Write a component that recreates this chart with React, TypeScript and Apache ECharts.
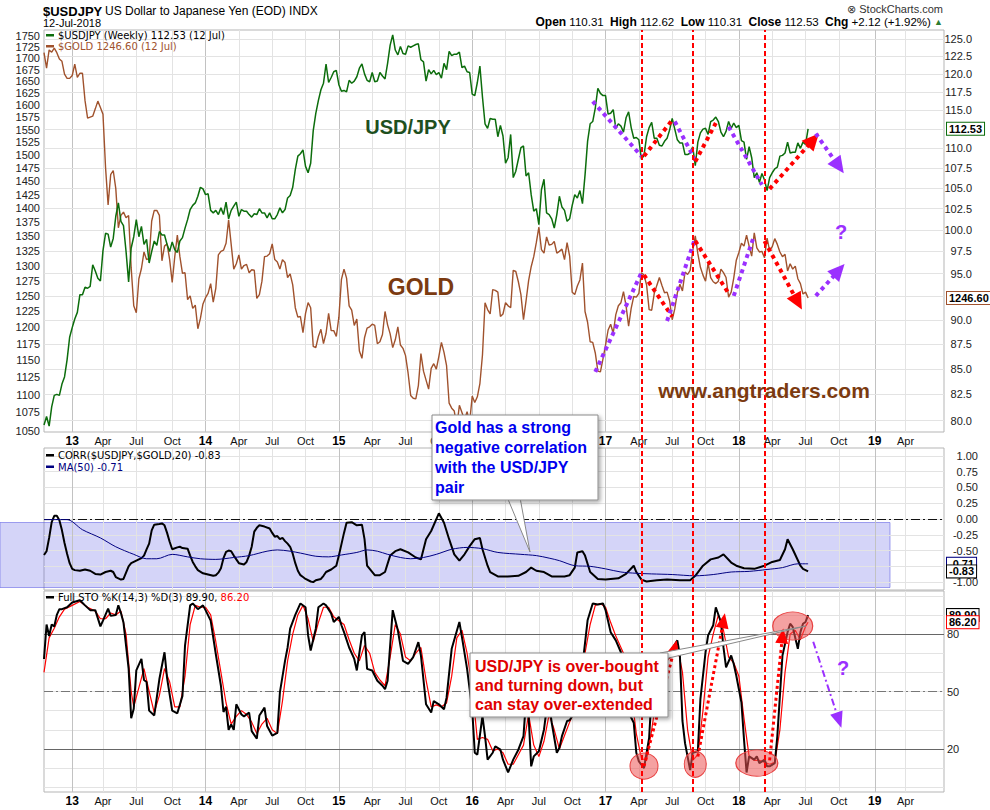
import React, { useEffect, useRef } from "react";
import * as echarts from "echarts";

// ---------- time axis (weekly, Monday of each week) ----------
const START_MONDAY = Date.UTC(2012, 9, 22);
const N_WEEKS = 352;
const WEEKS: string[] = Array.from({ length: N_WEEKS }, (_, i) =>
  new Date(START_MONDAY + i * 7 * 86400000).toISOString().slice(0, 10)
);
const QUARTER_NAMES: Record<number, string> = { 4: "Apr", 7: "Jul", 10: "Oct" };
const LAST_LABELLED_WEEK = 345;

// ---------- data ----------
const USDJPY = [
  79.6, 80.4, 79.5, 81.3, 82.4, 82.5, 82.4, 83.5, 84.2, 85.9,
  88.2, 89.2, 90.1, 90.8, 92.7, 92.7, 93.5, 93.4, 93.6, 96.0, 95.3, 94.5, 94.2, 97.6, 99.6, 99.5, 98.0, 99.0, 101.6, 103.2,
  101.0, 100.5, 97.5, 94.1, 97.9, 99.2, 101.2, 99.2, 100.4, 98.3, 98.9, 96.2, 97.5, 98.7, 98.2, 99.8, 99.4, 99.4, 98.3, 97.5,
  98.6, 97.7, 97.4, 98.7, 99.1, 100.2, 101.2, 102.4, 102.9, 103.2, 104.0, 105.1,
  104.9, 104.2, 104.3, 102.3, 102.0, 102.3, 101.8, 102.6, 101.8, 103.3, 101.3, 102.3, 102.8, 103.3, 101.6, 102.4, 102.2, 102.2,
  101.8, 101.5, 101.9, 101.8, 102.5, 102.0, 102.0, 101.4, 102.0, 101.3, 101.3, 101.8, 102.6, 102.0, 102.4, 103.8, 104.1, 105.1,
  107.3, 109.0, 109.3, 109.8, 107.7, 106.9, 108.1, 112.3, 114.6, 116.3, 117.8, 118.7, 121.4, 118.8, 119.5, 120.3,
  120.5, 118.5, 117.6, 117.7, 117.5, 119.1, 118.7, 119.0, 119.6, 120.8, 121.4, 120.0, 119.1, 118.9, 120.2, 118.9, 119.0, 120.2,
  119.7, 119.3, 121.5, 124.1, 125.6, 123.4, 122.7, 123.9, 122.9, 122.8, 124.0, 123.8, 124.0, 124.2, 124.3, 122.0, 121.7, 119.0,
  120.6, 120.0, 120.5, 119.9, 120.2, 119.4, 121.5, 120.6, 123.2, 122.6, 122.8, 122.8, 123.1, 120.9, 121.1, 120.3,
  120.2, 117.2, 117.0, 118.8, 121.1, 116.8, 113.2, 112.6, 113.9, 113.8, 113.8, 111.5, 113.0, 111.6, 108.1, 108.8, 111.8, 106.3,
  107.1, 108.6, 110.1, 110.3, 106.5, 106.9, 104.2, 102.2, 102.5, 100.6, 104.8, 106.1, 102.0, 101.8, 101.3, 100.2, 101.8, 104.0,
  102.7, 102.3, 101.0, 101.3, 102.9, 104.2, 103.8, 104.7, 103.1, 106.6, 110.9, 113.2, 113.5, 115.3, 118.0, 117.3, 117.0,
  117.0, 114.5, 114.6, 115.1, 112.6, 113.2, 112.9, 112.1, 114.0, 114.8, 112.7, 111.3, 111.4, 111.1, 108.6, 109.1, 111.5, 112.7,
  113.4, 111.3, 111.3, 110.4, 110.3, 110.9, 111.3, 112.4, 113.9, 112.5, 111.1, 110.7, 110.7, 109.2, 109.2, 109.4, 110.2, 107.8,
  110.8, 112.0, 112.5, 112.6, 111.8, 113.5, 113.7, 114.1, 113.5, 112.1, 111.5, 112.2, 113.5, 112.6, 113.3, 112.7,
  113.0, 111.0, 110.8, 108.6, 110.2, 108.8, 106.3, 106.9, 105.7, 106.8, 106.0, 104.7, 106.3, 106.9, 107.4, 107.6, 109.0, 109.1,
  109.4, 110.8, 109.4, 109.5, 109.5, 110.7, 110.0, 110.8, 110.5, 112.53,
];

const GOLD = [
  1712, 1678, 1718, 1713, 1722, 1712, 1698, 1693, 1665, 1656,
  1656, 1662, 1687, 1658, 1667, 1667, 1609, 1573, 1575, 1577, 1592, 1608, 1595, 1581, 1476, 1406, 1462, 1470, 1436, 1365,
  1387, 1393, 1383, 1387, 1296, 1234, 1223, 1278, 1295, 1323, 1310, 1312, 1377, 1396, 1396, 1387, 1308, 1333, 1337, 1310,
  1272, 1315, 1352, 1315, 1287, 1288, 1244, 1250, 1230, 1235, 1198, 1214,
  1237, 1247, 1254, 1270, 1240, 1262, 1318, 1324, 1326, 1338, 1379, 1336, 1294, 1303, 1318, 1294, 1300, 1302, 1288, 1293,
  1292, 1246, 1252, 1274, 1315, 1316, 1320, 1337, 1310, 1306, 1294, 1310, 1305, 1280, 1286, 1268, 1231, 1216, 1217, 1192,
  1222, 1239, 1231, 1171, 1169, 1186, 1197, 1175, 1191, 1222, 1195, 1195,
  1186, 1216, 1277, 1294, 1279, 1234, 1227, 1203, 1213, 1164, 1153, 1184, 1199, 1201, 1205, 1203, 1175, 1178, 1189, 1225,
  1204, 1190, 1169, 1181, 1201, 1173, 1168, 1157, 1131, 1099, 1095, 1094, 1113, 1160, 1134, 1121, 1108, 1138, 1145, 1137,
  1156, 1177, 1162, 1142, 1088, 1081, 1077, 1056, 1085, 1075, 1065, 1076,
  1061, 1098, 1089, 1097, 1116, 1158, 1239, 1228, 1221, 1260, 1259, 1256, 1217, 1221, 1239, 1234, 1231, 1292, 1290, 1273,
  1252, 1212, 1242, 1275, 1298, 1315, 1339, 1366, 1327, 1321, 1349, 1335, 1336, 1341, 1321, 1324, 1328, 1310, 1339, 1316,
  1256, 1252, 1266, 1276, 1304, 1225, 1208, 1178, 1177, 1161, 1134, 1133, 1152,
  1173, 1196, 1205, 1191, 1220, 1234, 1239, 1257, 1234, 1202, 1230, 1249, 1248, 1254, 1288, 1284, 1268, 1228, 1227, 1254,
  1267, 1280, 1267, 1255, 1256, 1242, 1212, 1229, 1255, 1269, 1258, 1289, 1285, 1292, 1325, 1351, 1320, 1297, 1284, 1274,
  1304, 1280, 1273, 1270, 1274, 1294, 1288, 1280, 1248, 1256, 1279, 1309,
  1322, 1338, 1333, 1352, 1333, 1316, 1356, 1330, 1323, 1324, 1313, 1347, 1325, 1332, 1346, 1336, 1323, 1315, 1319, 1291,
  1303, 1294, 1299, 1278, 1270, 1253, 1256, 1246.6,
];

// [week index, value]
const CORR = [
  [0, -0.57], [1, -0.51], [2, -0.3], [3, -0.05], [4, 0.05], [5, 0.05], [6, -0.02], [7, -0.18], [8, -0.38], [9, -0.55],
  [10, -0.7], [11, -0.79], [12, -0.81], [14, -0.82], [16, -0.8], [18, -0.82], [20, -0.87], [22, -0.88], [24, -0.84],
  [26, -0.82], [27, -0.84], [28, -0.92], [30, -0.96], [31, -0.95], [32, -0.85], [33, -0.75], [34, -0.7], [36, -0.66],
  [38, -0.62], [39, -0.58], [40, -0.48], [41, -0.39], [42, -0.18], [43, -0.09], [45, -0.08], [46, -0.07], [47, -0.1],
  [48, -0.22], [49, -0.36], [50, -0.48], [52, -0.45], [53, -0.44], [54, -0.46], [56, -0.47], [57, -0.58], [58, -0.68],
  [59, -0.75], [60, -0.81], [62, -0.86], [64, -0.88], [66, -0.9], [67, -0.89], [68, -0.85], [69, -0.78], [70, -0.62],
  [71, -0.52], [72, -0.5], [73, -0.51], [74, -0.58], [75, -0.64], [76, -0.7], [78, -0.72], [79, -0.68], [80, -0.58],
  [81, -0.44], [82, -0.2], [83, -0.14], [84, -0.1], [86, -0.12], [88, -0.15], [89, -0.22], [90, -0.28], [91, -0.27],
  [92, -0.32], [93, -0.3], [94, -0.35], [95, -0.39], [96, -0.44], [97, -0.55], [98, -0.7], [99, -0.82], [100, -0.89],
  [101, -0.92], [102, -0.95], [104, -0.99], [105, -1.0], [106, -0.97], [108, -0.95], [109, -0.9], [110, -0.84],
  [112, -0.8], [114, -0.74], [115, -0.58], [117, -0.22], [118, -0.06], [120, -0.05], [122, -0.1], [124, -0.09],
  [125, -0.32], [126, -0.74], [129, -0.89], [131, -0.89], [133, -0.84], [135, -0.58], [137, -0.51], [139, -0.48],
  [142, -0.53], [145, -0.61], [147, -0.64], [149, -0.32], [151, -0.19], [154, 0.09], [156, -0.06], [158, -0.32],
  [160, -0.56], [162, -0.66], [164, -0.56], [166, -0.43], [168, -0.32], [170, -0.3], [171, -0.48], [173, -0.74],
  [174, -0.84], [177, -0.91], [181, -0.91], [185, -0.9], [188, -0.84], [190, -0.77], [192, -0.82], [195, -0.84],
  [198, -0.91], [203, -0.91], [205, -0.89], [207, -0.77], [208, -0.53], [210, -0.51], [211, -0.58], [213, -0.84],
  [216, -0.95], [219, -0.96], [224, -0.94], [227, -0.87], [230, -0.74], [231, -0.84], [233, -0.96], [235, -0.99],
  [239, -0.97], [243, -0.96], [248, -0.97], [252, -0.97], [254, -0.9], [257, -0.74], [260, -0.64], [263, -0.61],
  [265, -0.56], [268, -0.69], [270, -0.74], [273, -0.78], [277, -0.79], [281, -0.74], [284, -0.68], [287, -0.65],
  [289, -0.48], [290, -0.32], [292, -0.48], [295, -0.74], [296, -0.79], [298, -0.83],
];

const MA50 = [
  [0, -0.01], [9, -0.01], [15, -0.17], [22, -0.3], [28, -0.44], [35, -0.56], [40, -0.63], [44, -0.63], [50, -0.56],
  [56, -0.6], [61, -0.63], [67, -0.64], [74, -0.61], [80, -0.58], [87, -0.51], [91, -0.49], [96, -0.51], [100, -0.54],
  [106, -0.59], [111, -0.6], [116, -0.57], [122, -0.53], [126, -0.49], [130, -0.51], [134, -0.56], [139, -0.61],
  [143, -0.63], [148, -0.61], [153, -0.56], [159, -0.48], [165, -0.45], [171, -0.47], [177, -0.53], [186, -0.56],
  [192, -0.58], [197, -0.62], [201, -0.66], [207, -0.74], [213, -0.75], [219, -0.79], [225, -0.84], [231, -0.86],
  [237, -0.87], [245, -0.88], [254, -0.9], [261, -0.88], [268, -0.84], [275, -0.83], [282, -0.8], [288, -0.77],
  [294, -0.71], [298, -0.71],
];

const STO_K = [
  [0, 67], [1, 85], [2, 79], [3, 85], [4, 84], [5, 90], [6, 93], [7, 93], [9, 94], [11, 96.5], [14, 97.7], [16, 95],
  [18, 92.5], [20, 92.5], [22, 84], [23, 87], [25, 93.3], [26, 89.5], [28, 90], [29, 95], [30, 91], [31, 86], [33, 62],
  [34, 36], [35, 41], [36, 61], [38, 67], [39, 56], [40, 55], [41, 40], [43, 37.5], [45, 56.5], [47, 70.5], [48, 57],
  [50, 40], [52, 38.6], [54, 47.7], [55, 74], [57, 95], [58, 96], [60, 93], [62, 95], [63, 92.5], [65, 87], [67, 69.6],
  [69, 53], [70, 39.3], [71, 42], [72, 30], [73, 32.8], [74, 30], [75, 43.3], [77, 38], [78, 37], [80, 39], [81, 29.3],
  [83, 25.4], [84, 37.5], [86, 41.6], [87, 32], [89, 27], [91, 28.4], [92, 49.5], [94, 66], [95, 73], [96, 82.8],
  [98, 90], [100, 96], [102, 94], [103, 79.3], [104, 71.4], [106, 82.8], [107, 94], [109, 96], [110, 95], [112, 90.7],
  [113, 86.3], [115, 89], [116, 84.6], [117, 81], [119, 73], [121, 67], [122, 61], [124, 79.3], [125, 81], [126, 61.8],
  [128, 61], [130, 55.6], [132, 53], [133, 51.2], [134, 55.6], [136, 92.5], [138, 82], [140, 66], [142, 64.4],
  [144, 68], [146, 75.8], [147, 68.8], [149, 43.3], [151, 39], [152, 45], [154, 43.3], [156, 40.7], [157, 46.8],
  [159, 72.3], [162, 86.3], [163, 78.4], [165, 61.8], [167, 40.7], [168, 18], [169, 17], [171, 37.2], [172, 26.7],
  [173, 14.4], [175, 18], [176, 21.4], [178, 19.6], [179, 14.4], [181, 7.7], [183, 14.4], [185, 19.6], [187, 26.7],
  [188, 46], [189, 37.2], [190, 10.9], [191, 16.1], [193, 18.8], [195, 30.2], [196, 40.7], [197, 44.2], [198, 33.7],
  [200, 18], [201, 20.5], [202, 26.7], [204, 34.6], [205, 35], [206, 37.2], [208, 47.7], [209, 54.7], [210, 63.5],
  [212, 87.2], [214, 96], [216, 95.4], [218, 96], [219, 92.5], [221, 81], [223, 76.7], [225, 70.5], [227, 63.5],
  [228, 39], [230, 33.7], [231, 18], [232, 13.5], [234, 10], [236, 25.8], [237, 49.5], [239, 58.2], [241, 68.8],
  [243, 67], [245, 72.3], [247, 76.7], [248, 68.8], [249, 34.6], [250, 23], [252, 9], [253, 18], [255, 18.8], [256, 46],
  [258, 70.5], [259, 79.3], [261, 84.6], [262, 94], [264, 86.3], [265, 73], [266, 62.6], [268, 68.8], [269, 64.4],
  [270, 58.2], [272, 44.2], [273, 25], [274, 7.7], [275, 16.1], [277, 14.4], [278, 16.1], [279, 12.6], [281, 14.4],
  [282, 10.9], [283, 10.9], [285, 12.6], [286, 26.7], [287, 47.7], [288, 68.8], [290, 81], [291, 85.4], [292, 83.7],
  [294, 72.3], [295, 81], [296, 85.4], [297, 86.3], [298, 89.9],
];

const STO_D = [
  [0, 60], [2, 78], [4, 83], [6, 89], [8, 93], [11, 95], [14, 97], [17, 94], [20, 92], [22, 88], [24, 88], [26, 91],
  [28, 90], [30, 92], [32, 80], [34, 50], [35, 42], [37, 52], [39, 62], [41, 50], [43, 39], [45, 48], [47, 62], [49, 55],
  [51, 42], [53, 42], [55, 58], [57, 85], [59, 95], [61, 94], [63, 94], [65, 90], [67, 76], [69, 60], [71, 44], [73, 33],
  [75, 37], [77, 40], [79, 38], [81, 34], [83, 28], [85, 33], [87, 36], [89, 30], [91, 28], [93, 45], [95, 66], [97, 80],
  [99, 90], [101, 95], [103, 88], [105, 76], [107, 86], [109, 94], [111, 94], [113, 89], [115, 87], [117, 85], [119, 77],
  [121, 70], [123, 66], [125, 74], [127, 70], [129, 60], [131, 56], [133, 53], [135, 68], [137, 85], [139, 80], [141, 68],
  [143, 66], [145, 70], [147, 73], [149, 56], [151, 42], [153, 43], [155, 42], [157, 44], [159, 58], [161, 78], [163, 82],
  [165, 70], [167, 52], [169, 25], [171, 26], [173, 25], [175, 19], [177, 20], [179, 18], [181, 12], [183, 12], [185, 17],
  [187, 22], [189, 38], [191, 22], [193, 16], [195, 24], [197, 38], [199, 30], [201, 20], [203, 27], [205, 34], [207, 40],
  [209, 49], [211, 70], [213, 85], [215, 95], [217, 96], [219, 94], [221, 86], [223, 79], [225, 73], [227, 67], [229, 50],
  [231, 28], [233, 15], [235, 14], [237, 30], [239, 48], [241, 62], [243, 66], [245, 69], [247, 74], [249, 60], [251, 30],
  [253, 14], [255, 17], [257, 40], [259, 68], [261, 80], [263, 90], [265, 82], [267, 68], [269, 65], [271, 58], [273, 36],
  [275, 16], [277, 14], [279, 14], [281, 13], [283, 12], [285, 13], [287, 30], [289, 60], [291, 80], [293, 82], [295, 77],
  [297, 84], [298, 86.2],
];

// ---------- tick labels ----------
const GOLD_TICKS = [1050, 1075, 1100, 1125, 1150, 1175, 1200, 1225, 1250, 1275, 1300, 1325, 1350, 1375, 1400, 1425,
  1450, 1475, 1500, 1525, 1550, 1575, 1600, 1625, 1650, 1675, 1700, 1725, 1750];
const USD_TICKS = [80, 82.5, 85, 87.5, 90, 92.5, 95, 97.5, 100, 102.5, 105, 107.5, 110, 112.5, 115, 117.5, 120, 122.5, 125];
const USD_TICKS_UNLABELLED = [92.5, 112.5];
const CORR_LABEL_HIDDEN = [-0.75];
const STO_LABELS = [20, 50, 80];

// ---------- annotations (data-space) ----------
const EVENT_WEEKS = [233, 253, 281];
const P = "#9b30ff";
const R = "#ff0000";
// [week1, value1, week2, value2, colour, arrowhead]
const USD_ARROWS: any[] = [
  [214, 116.2, 233, 109.0, P, false], [234, 109.0, 245, 113.7, R, false], [246, 113.5, 254, 108.5, P, false],
  [254, 108.3, 262, 113.3, R, false], [267, 112.8, 280, 105.4, P, false], [283, 104.9, 300, 111.1, R, true],
  [301, 111.9, 310, 107.7, P, true],
];
const GOLD_ARROWS: any[] = [
  [215, 1133, 233, 1288, P, false], [234, 1284, 245, 1217, R, false], [243, 1210, 254, 1347, P, false],
  [254, 1342, 267, 1254, R, false], [269, 1250, 277, 1352, P, false], [281, 1342, 294, 1240, R, true],
  [301, 1250, 310, 1292, P, true],
];
const STO_ARROWS: any[] = [
  [234, 11, 246, 73, R, true], [255, 16, 265, 87, R, true], [283, 14, 288, 79, R, true],
];
const STO_DOWN_ARROW: any = [300, 76, 310, 35, P, true];
// [week, value, width, height]
const STO_CIRCLES = [[234, 11, 28, 26], [254, 12, 22, 26], [278, 12.6, 42, 26], [292, 84.2, 40, 28]];

const FONT = '"Liberation Sans", Arial, Helvetica, sans-serif';
const LFONT = '"DejaVu Sans", Verdana, sans-serif';
const GREEN = "#0c6d0c";
const BROWN = "#a0522d";

const isQuarterStart = (i: number) => {
  if (i <= 0 || i > LAST_LABELLED_WEEK) return false;
  const m = +WEEKS[i].slice(5, 7);
  const pm = +WEEKS[i - 1].slice(5, 7);
  return m !== pm && (m - 1) % 3 === 0;
};
const quarterLabel = (value: string) => {
  const m = +value.slice(5, 7);
  return m === 1 ? `{y|${value.slice(2, 4)}}` : QUARTER_NAMES[m] || "";
};

const mkX = (gridIndex: number, showLabels: boolean, margin: number, hidden = false) => ({
  type: "category",
  gridIndex,
  data: WEEKS,
  boundaryGap: false,
  show: !hidden,
  axisLine: { show: false },
  axisTick: { show: false },
  axisLabel: {
    show: showLabels,
    interval: (i: number) => isQuarterStart(i),
    formatter: (v: string) => quarterLabel(v),
    margin,
    fontSize: 11,
    color: "#111",
    fontFamily: FONT,
    rich: { y: { fontWeight: "bold", fontSize: 12, color: "#000", fontFamily: FONT } },
  },
  splitLine: {
    show: !hidden,
    interval: (i: number) => isQuarterStart(i),
    lineStyle: { color: ["#c2c2c2", "#e3e3e3", "#e3e3e3", "#e3e3e3"], width: 1 },
  },
});

const arrowPair = (a: any[], width: number, dash: any, size: number[]) => [
  { coord: [a[0], a[1]], symbol: "none", lineStyle: { color: a[4], width, type: dash, cap: "butt" } },
  { coord: [a[2], a[3]], symbol: a[5] ? "triangle" : "none", symbolSize: size },
];

const tag = (value: number, text: string, border: string, color = "#000", position = "end") => ({
  yAxis: value,
  lineStyle: { color: "rgba(0,0,0,0)" },
  label: {
    show: true,
    position,
    formatter: text,
    distance: 3,
    align: "left",
    color,
    fontWeight: "bold",
    fontSize: 11,
    fontFamily: FONT,
    backgroundColor: "#fff",
    borderColor: border,
    borderWidth: 1,
    padding: [1, 2, 0, 2],
  },
});

const T = (x: number, y: number, text: string, font: string, fill: string, align = "left", z = 50, rich?: any) => ({
  type: "text",
  x,
  y,
  z,
  silent: true,
  style: { text, font, fill, align, textAlign: align, verticalAlign: "middle", textVerticalAlign: "middle", rich },
});

function buildOption(): any {
  const gridBase = { left: 44, right: 46, show: true, borderColor: "#b5b5b5", borderWidth: 1, backgroundColor: "transparent", outerBoundsMode: "none", containLabel: false };
  const hiddenAxisParts = { axisLabel: { show: false }, axisTick: { show: false }, axisLine: { show: false }, splitLine: { show: false } };

  return {
    animation: false,
    backgroundColor: "#fff",
    textStyle: { fontFamily: FONT },
    grid: [
      { ...gridBase, top: 30, height: 402 },
      { ...gridBase, top: 448, height: 142 },
      { ...gridBase, top: 591, height: 201 },
      { ...gridBase, top: 30, height: 762, show: false },
    ],
    xAxis: [mkX(0, true, 3), mkX(1, false, 3), mkX(2, true, 3), mkX(3, false, 3, true)],
    yAxis: [
      { type: "log", gridIndex: 0, position: "left", min: 1048.2, max: 1762.9, ...hiddenAxisParts },
      { type: "log", gridIndex: 0, position: "right", min: 78.95, max: 126.32, ...hiddenAxisParts },
      {
        type: "value", gridIndex: 1, position: "right", min: -1.125, max: 1.125, interval: 0.125,
        axisLine: { show: false }, axisTick: { show: false },
        axisLabel: {
          margin: 34, align: "right", fontSize: 11, color: "#222", fontFamily: FONT,
          formatter: (v: number) => {
            const q = Math.round(v * 4);
            if (Math.abs(v * 4 - q) > 1e-6 || Math.abs(v) > 1.0001) return "";
            const val = q / 4;
            if (CORR_LABEL_HIDDEN.includes(val)) return "";
            return (Math.abs(val) < 1e-9 ? 0 : val).toFixed(2);
          },
        },
        splitLine: { show: true, lineStyle: { color: ["rgba(0,0,0,0)", "#e3e3e3"], width: 1 } },
      },
      {
        type: "value", gridIndex: 2, position: "right", min: -2.5, max: 102.5, interval: 2.5,
        axisLine: { show: false }, axisTick: { show: false },
        axisLabel: {
          margin: 3, fontSize: 11, color: "#222", fontFamily: FONT,
          formatter: (v: number) => (STO_LABELS.some((s) => Math.abs(s - v) < 1e-6) ? String(Math.round(v)) : ""),
        },
        splitLine: { show: true, lineStyle: { color: ["rgba(0,0,0,0)", "#e3e3e3", "rgba(0,0,0,0)", "rgba(0,0,0,0)"], width: 1 } },
      },
      { type: "value", gridIndex: 3, min: 0, max: 1, show: false },
    ],
    series: [
      // ---- top panel helpers: grid lines + right labels (USD axis) ----
      {
        type: "line", xAxisIndex: 0, yAxisIndex: 1, data: [], silent: true,
        markLine: {
          z: 1, silent: true, symbol: "none", animation: false,
          lineStyle: { color: "#e3e3e3", type: "solid", width: 1 },
          label: { show: true, position: "end", distance: 28, align: "right", color: "#222", fontSize: 11, fontFamily: FONT },
          data: [
            ...USD_TICKS.map((v) => ({
              yAxis: v,
              label: { formatter: USD_TICKS_UNLABELLED.includes(v) ? "" : v.toFixed(1) },
            })),
            tag(112.53, "112.53", GREEN),
          ],
        },
      },
      // ---- left gold labels ----
      {
        type: "line", xAxisIndex: 0, yAxisIndex: 0, data: [], silent: true,
        markLine: {
          z: 1, silent: true, symbol: "none", animation: false,
          lineStyle: { color: "rgba(0,0,0,0)", width: 0 },
          label: { show: true, position: "start", distance: 4, color: "#222", fontSize: 11, fontFamily: FONT },
          data: [
            ...GOLD_TICKS.map((v) => ({ yAxis: v, label: { formatter: String(v) } })),
            tag(1246.6, "1246.60", BROWN),
          ],
        },
      },
      {
        name: "$GOLD", type: "line", xAxisIndex: 0, yAxisIndex: 0, data: GOLD, showSymbol: false, symbol: "none",
        silent: true, z: 3, lineStyle: { color: BROWN, width: 1.4 },
      },
      {
        name: "$USDJPY", type: "line", xAxisIndex: 0, yAxisIndex: 1, data: USDJPY, showSymbol: false, symbol: "none",
        silent: true, z: 3, lineStyle: { color: GREEN, width: 1.5 },
      },
      // ---- top arrows ----
      {
        type: "line", xAxisIndex: 0, yAxisIndex: 1, data: [], silent: true,
        markLine: {
          z: 6, silent: true, symbol: "none", label: { show: false }, animation: false,
          data: USD_ARROWS.map((a) => arrowPair(a, 4, [4, 4], [16, 17])),
        },
      },
      {
        type: "line", xAxisIndex: 0, yAxisIndex: 0, data: [], silent: true,
        markLine: {
          z: 6, silent: true, symbol: "none", label: { show: false }, animation: false,
          data: GOLD_ARROWS.map((a) => arrowPair(a, 4, [4, 4], [16, 17])),
        },
      },
      // ---- correlation panel ----
      {
        name: "CORR", type: "line", xAxisIndex: 1, yAxisIndex: 2, data: CORR, showSymbol: false, symbol: "none",
        silent: true, z: 3, lineStyle: { color: "#000", width: 2 },
        markLine: {
          z: 1, silent: true, symbol: "none", animation: false,
          data: [
            { yAxis: 0, lineStyle: { color: "#111", width: 1, type: [9, 3, 2, 3] }, label: { show: false } },
            tag(-0.71, "-0.71", "#000080"),
            tag(-0.83, "-0.83", "#000"),
          ],
        },
      },
      {
        name: "MA(50)", type: "line", xAxisIndex: 1, yAxisIndex: 2, data: MA50, showSymbol: false, symbol: "none",
        silent: true, z: 3, smooth: 0.3, lineStyle: { color: "#000080", width: 1 },
      },
      // ---- stochastic panel ----
      {
        type: "line", xAxisIndex: 2, yAxisIndex: 3, data: [], silent: true,
        markLine: {
          z: 1, silent: true, symbol: "none", animation: false,
          data: [
            { yAxis: 80, lineStyle: { color: "#666", width: 1, type: "solid" }, label: { show: false } },
            { yAxis: 20, lineStyle: { color: "#666", width: 1, type: "solid" }, label: { show: false } },
            { yAxis: 50, lineStyle: { color: "#777", width: 1, type: [9, 3, 2, 3] }, label: { show: false } },
            tag(89.9, "89.90", "#000"),
            tag(86.2, "86.20", "#ff0000"),
          ],
        },
      },
      {
        name: "%D", type: "line", xAxisIndex: 2, yAxisIndex: 3, data: STO_D, showSymbol: false, symbol: "none",
        silent: true, z: 3, lineStyle: { color: "#ff0000", width: 1.2 },
      },
      {
        name: "%K", type: "line", xAxisIndex: 2, yAxisIndex: 3, data: STO_K, showSymbol: false, symbol: "none",
        silent: true, z: 4, lineStyle: { color: "#000", width: 2 },
      },
      {
        type: "line", xAxisIndex: 2, yAxisIndex: 3, data: [], silent: true,
        markPoint: {
          z: 5, silent: true, symbol: "circle", animation: false,
          itemStyle: { color: "rgba(236,84,84,0.55)", borderColor: "#e84040", borderWidth: 1 },
          label: { show: false },
          data: STO_CIRCLES.map((c) => ({ coord: [c[0], c[1]], symbolSize: [c[2], c[3]] })),
        },
        markLine: {
          z: 6, silent: true, symbol: "none", label: { show: false }, animation: false,
          data: [
            ...STO_ARROWS.map((a) => arrowPair(a, 3, [3, 3], [13, 15])),
            arrowPair(STO_DOWN_ARROW, 2, [7, 3, 2, 3], [13, 16]),
          ],
        },
      },
      // ---- red vertical event lines across all panels ----
      {
        type: "line", xAxisIndex: 3, yAxisIndex: 4, data: [], silent: true,
        markLine: {
          z: 7, silent: true, symbol: "none", label: { show: false }, animation: false,
          lineStyle: { color: "#ff0000", width: 2, type: [5, 3] },
          data: EVENT_WEEKS.map((w) => ({ xAxis: w })),
        },
      },
    ],
    graphic: [
      // header
      T(43, 11, "$USDJPY", `bold 13px ${FONT}`, "#000"),
      T(105, 11, "US Dollar to Japanese Yen (EOD) INDX", `12px ${FONT}`, "#000"),
      T(43, 23, "12-Jul-2018", `11px ${FONT}`, "#000"),
      T(943, 9, "⊗ StockCharts.com", `11px ${FONT}`, "#333", "right"),
      T(943, 22, "{b|Open} 110.31  {b|High} 112.62  {b|Low} 110.31  {b|Close} 112.53  {b|Chg} +2.12 (+1.92%) {g|▲}",
        `11.5px ${FONT}`, "#000", "right", 50, {
          b: { font: `bold 12px ${FONT}`, fill: "#000" },
          g: { font: `9px ${FONT}`, fill: "#2e7d32" },
        }),
      // legends
      { type: "rect", z: 50, silent: true, shape: { x: 46, y: 34, width: 8, height: 2.5 }, style: { fill: GREEN } },
      T(58, 35.5, "$USDJPY (Weekly) 112.53 (12 Jul)", `10px ${LFONT}`, "#000"),
      { type: "rect", z: 50, silent: true, shape: { x: 46, y: 45, width: 8, height: 2.5 }, style: { fill: BROWN } },
      T(58, 46.5, "$GOLD 1246.60 (12 Jul)", `10px ${LFONT}`, BROWN),
      { type: "rect", z: 50, silent: true, shape: { x: 46, y: 454, width: 8, height: 2.5 }, style: { fill: "#000" } },
      T(58, 455.5, "CORR($USDJPY,$GOLD,20) -0.83", `10px ${LFONT}`, "#000"),
      { type: "rect", z: 50, silent: true, shape: { x: 46, y: 465.5, width: 8, height: 2.5 }, style: { fill: "#000080" } },
      T(58, 467, "MA(50) -0.71", `10px ${LFONT}`, "#000080"),
      { type: "rect", z: 50, silent: true, shape: { x: 46, y: 596, width: 8, height: 2.5 }, style: { fill: "#000" } },
      T(58, 597.5, "Full STO %K(14,3) %D(3) 89.90, {r|86.20}", `10px ${LFONT}`, "#000", "left", 50, {
        r: { font: `10px ${LFONT}`, fill: "#ff0000" },
      }),
      // blue band in correlation panel
      {
        type: "rect", z: 0, silent: true, shape: { x: 0, y: 522.5, width: 890, height: 65 },
        style: { fill: "rgba(100,100,230,0.28)", stroke: "rgba(90,90,225,0.55)", lineWidth: 1 },
      },
      // text annotations
      T(408, 127, "USD/JPY", `bold 20px ${FONT}`, "#1e4f1e", "center", 40),
      T(421, 287, "GOLD", `bold 23px ${FONT}`, "#7b3a10", "center", 40),
      T(764, 390, "www.angtraders.com", `bold 21px ${FONT}`, "#7b3a10", "center", 40),
      T(841, 232, "?", `bold 20px ${FONT}`, P, "center", 40),
      T(843, 668, "?", `bold 20px ${FONT}`, P, "center", 40),
      // callout 1
      {
        type: "polygon", z: 59, silent: true, shape: { points: [[505, 492], [530, 552], [519, 492]] },
        style: { fill: "#fff", stroke: "#888", lineWidth: 1 },
      },
      {
        type: "rect", z: 60, silent: true, shape: { x: 432, y: 415, width: 166, height: 85 },
        style: {
          fill: "#fff", stroke: "#8a8a8a", lineWidth: 1, shadowBlur: 4, shadowOffsetX: 2, shadowOffsetY: 2,
          shadowColor: "rgba(0,0,0,0.35)",
        },
      },
      T(435, 427, "Gold has a strong", `bold 16px ${FONT}`, "#0000ee", "left", 61),
      T(435, 447, "negative correlation", `bold 16px ${FONT}`, "#0000ee", "left", 61),
      T(435, 467, "with the USD/JPY", `bold 16px ${FONT}`, "#0000ee", "left", 61),
      T(435, 487, "pair", `bold 16px ${FONT}`, "#0000ee", "left", 61),
      // callout 2
      {
        type: "polygon", z: 59, silent: true, shape: { points: [[660, 653], [806, 626], [660, 660]] },
        style: { fill: "#fff", stroke: "#888", lineWidth: 1 },
      },
      {
        type: "rect", z: 60, silent: true, shape: { x: 470, y: 653, width: 198, height: 64 },
        style: {
          fill: "#fff", stroke: "#8a8a8a", lineWidth: 1, shadowBlur: 4, shadowOffsetX: 2, shadowOffsetY: 2,
          shadowColor: "rgba(0,0,0,0.35)",
        },
      },
      T(475, 666, "USD/JPY is over-bought", `bold 16px ${FONT}`, "#e00000", "left", 61),
      T(475, 685, "and turning down, but", `bold 16px ${FONT}`, "#e00000", "left", 61),
      T(475, 704, "can stay over-extended", `bold 16px ${FONT}`, "#e00000", "left", 61),
    ],
  };
}

export default function App() {
  const ref = useRef<HTMLDivElement>(null);
  useEffect(() => {
    if (!ref.current) return;
    const chart = echarts.init(ref.current, null, { renderer: "svg" });
    chart.setOption(buildOption());
    return () => chart.dispose();
  }, []);
  return (
    <div
      ref={ref}
      style={{ position: "fixed", left: 0, top: 0, width: 990, height: 810, background: "#fff" }}
    />
  );
}
